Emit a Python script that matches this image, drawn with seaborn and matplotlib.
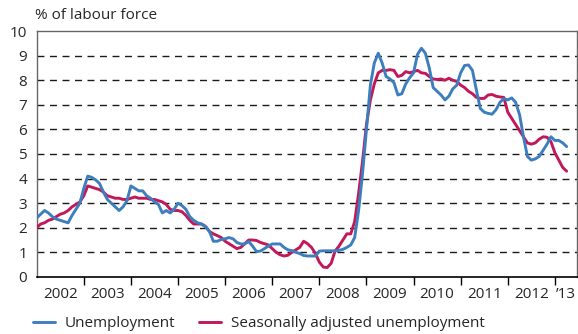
import numpy as np
import pandas as pd
import matplotlib
matplotlib.use('Agg')
import matplotlib.pyplot as plt
import seaborn as sns

# monthly values, Jan 2002 - Apr 2013 (% of labour force)
unemp = [
    2.4, 2.55, 2.7, 2.6, 2.45, 2.35, 2.3, 2.25, 2.2, 2.5, 2.75, 3.0,      # 2002
    3.6, 4.1, 4.05, 3.95, 3.8, 3.45, 3.15, 3.0, 2.85, 2.7, 2.85, 3.1,     # 2003
    3.7, 3.6, 3.5, 3.5, 3.3, 3.2, 3.05, 2.95, 2.6, 2.7, 2.6, 2.75,        # 2004
    3.0, 2.9, 2.75, 2.45, 2.3, 2.2, 2.15, 2.05, 1.85, 1.45, 1.45, 1.52,   # 2005
    1.55, 1.6, 1.55, 1.4, 1.34, 1.34, 1.44, 1.25, 1.03, 1.05, 1.15, 1.25, # 2006
    1.34, 1.34, 1.34, 1.2, 1.1, 1.07, 1.0, 0.95, 0.87, 0.85, 0.85, 0.85,  # 2007
    1.05, 1.06, 1.06, 1.06, 1.06, 1.08, 1.12, 1.2, 1.3, 1.6, 2.7, 4.2,    # 2008
    6.0, 7.8, 8.7, 9.1, 8.7, 8.15, 8.05, 7.9, 7.4, 7.45, 7.85, 8.1,       # 2009
    8.3, 9.05, 9.3, 9.1, 8.5, 7.7, 7.55, 7.4, 7.2, 7.35, 7.65, 7.8,       # 2010
    8.3, 8.6, 8.62, 8.4, 7.6, 6.85, 6.7, 6.65, 6.62, 6.8, 7.1, 7.25,      # 2011
    7.2, 7.28, 7.1, 6.6, 5.7, 4.9, 4.75, 4.8, 4.9, 5.15, 5.4, 5.7,        # 2012
    5.55, 5.55, 5.45, 5.3,                                                # 2013
]
seas_adj = [
    2.0, 2.15, 2.2, 2.3, 2.35, 2.45, 2.55, 2.6, 2.7, 2.85, 2.95, 3.05,    # 2002
    3.3, 3.7, 3.65, 3.6, 3.55, 3.45, 3.3, 3.25, 3.2, 3.2, 3.15, 3.15,     # 2003
    3.2, 3.25, 3.2, 3.2, 3.2, 3.15, 3.15, 3.1, 3.05, 2.95, 2.75, 2.7,     # 2004
    2.7, 2.65, 2.5, 2.3, 2.15, 2.15, 2.15, 2.05, 1.85, 1.75, 1.68, 1.6,   # 2005
    1.45, 1.35, 1.25, 1.15, 1.2, 1.35, 1.5, 1.5, 1.48, 1.4, 1.35, 1.3,    # 2006
    1.15, 1.0, 0.9, 0.85, 0.88, 1.0, 1.1, 1.2, 1.45, 1.35, 1.2, 0.95,     # 2007
    0.6, 0.4, 0.38, 0.55, 1.05, 1.25, 1.5, 1.75, 1.75, 2.25, 3.4, 4.7,    # 2008
    6.2, 7.2, 7.85, 8.3, 8.4, 8.4, 8.43, 8.4, 8.15, 8.2, 8.35, 8.3,       # 2009
    8.35, 8.4, 8.3, 8.28, 8.15, 8.05, 8.03, 8.05, 8.0, 8.08, 8.0, 7.95,   # 2010
    7.8, 7.7, 7.55, 7.45, 7.3, 7.26, 7.26, 7.4, 7.42, 7.35, 7.32, 7.3,    # 2011
    6.7, 6.45, 6.2, 5.95, 5.7, 5.45, 5.4, 5.45, 5.6, 5.7, 5.68, 5.5,      # 2012
    5.05, 4.75, 4.45, 4.3,                                                # 2013
]
year_labels = ['2002', '2003', '2004', '2005', '2006', '2007', '2008',
               '2009', '2010', '2011', '2012', '\u201913']
label_pos = [2002.5, 2003.5, 2004.5, 2005.5, 2006.5, 2007.5, 2008.5,
             2009.5, 2010.5, 2011.5, 2012.5, 2013.24]
grid_levels = [1, 2, 3, 4, 5, 6, 7, 8, 9]

t = 2002 + np.arange(len(unemp)) / 12
df = pd.DataFrame({'t': np.concatenate([t, t]),
                   'value': unemp + seas_adj,
                   'series': ['Unemployment'] * len(unemp) +
                             ['Seasonally adjusted unemployment'] * len(seas_adj)})

sns.set_style('white')
plt.rcParams['font.family'] = ['Open Sans', 'DejaVu Sans']

rect = [0.0635, 0.171, 0.934, 0.736]
fig = plt.figure(figsize=(5.78, 3.34), dpi=100)

# background axes only for the dashed grid
gax = fig.add_axes(rect, zorder=0)
for y in grid_levels:
    gax.axhline(y, color='#1a1a1a', lw=1.0, ls=(0, (5, 4)))
gax.set_ylim(0, 10)
gax.set_xlim(0, 1)
gax.set_axis_off()

# main axes on top, transparent
ax = fig.add_axes(rect, zorder=1)
ax.patch.set_alpha(0)

sns.lineplot(data=df, x='t', y='value', hue='series',
             hue_order=['Unemployment', 'Seasonally adjusted unemployment'],
             palette=['#3d7ebf', '#c2185b'], lw=2.1, ax=ax, legend=False)
lines = ax.get_lines()
lines[0].set_zorder(4)
lines[1].set_zorder(3)

ax.set_xlim(2002, 2013.46)
ax.set_ylim(0, 10)
ax.set_yticks(range(0, 11))

ax.set_xticks(np.arange(2003, 2014))
ax.set_xticklabels([])
ax.set_xticks(label_pos, minor=True)
ax.set_xticklabels(year_labels, minor=True)
ax.set_xlabel('')
ax.set_ylabel('')
ax.tick_params(axis='x', which='major', direction='out', length=6, width=1, color='black', bottom=True)
ax.tick_params(axis='x', which='minor', length=0, pad=7, labelsize=11)
ax.tick_params(axis='y', length=0, pad=7, labelsize=11)

for s in ['left', 'top', 'right']:
    ax.spines[s].set_color('#666666')
    ax.spines[s].set_linewidth(1.0)
ax.spines['bottom'].set_color('black')
ax.spines['bottom'].set_linewidth(1.2)

fig.text(0.06, 0.955, '% of labour force', fontsize=11, va='center', ha='left')

handles = [plt.Line2D([], [], color='#3d7ebf', lw=2.1),
           plt.Line2D([], [], color='#c2185b', lw=2.1)]
fig.legend(handles, ['Unemployment', 'Seasonally adjusted unemployment'],
           loc='center left', bbox_to_anchor=(0.057, 0.03), ncol=2, frameon=False,
           fontsize=11, handlelength=1.45, handletextpad=0.6, columnspacing=1.6,
           borderpad=0, borderaxespad=0)

fig.savefig('out.png', dpi=100)
